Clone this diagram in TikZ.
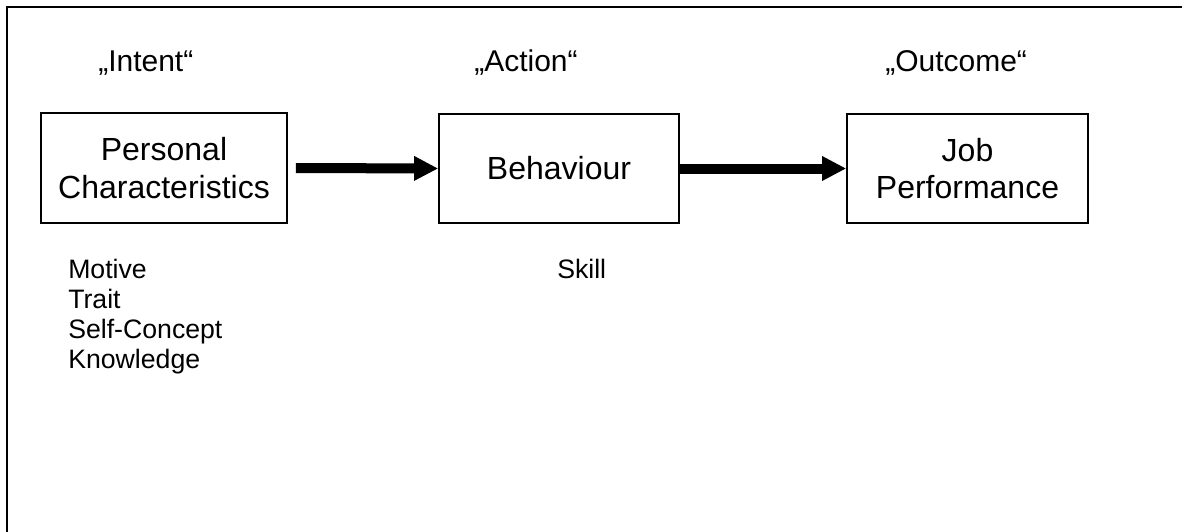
\documentclass[tikz,border=0pt]{standalone}
\usepackage{fontspec}
\setmainfont{Liberation Sans}
\usetikzlibrary{arrows.meta}
\begin{document}
\begin{tikzpicture}[x=0.75pt,y=-0.75pt,
  stagebox/.style={draw,line width=1.2pt,rectangle,align=center,inner sep=0pt,
    font=\fontsize{24}{28}\selectfont},
  stagelabel/.style={anchor=base west,inner sep=0pt,font=\fontsize{22.5}{27}\selectfont},
  listtext/.style={anchor=north west,inner sep=0pt,align=left,font=\fontsize{20}{22.5}\selectfont},
  flow/.style={line width=7.5pt,-{Triangle[length=18pt,width=17.25pt]}}]
  \useasboundingbox (0,0) rectangle (1182,532);
  % frame along the top and left edges
  \draw[line width=1.5pt] (7,532) -- (7,7) -- (1182,7);
  % the three stages
  \node[stagebox,minimum width=184.5pt,minimum height=82.5pt] (pc) at (164,168) {Personal\\Characteristics};
  \node[stagebox,minimum width=180pt,minimum height=81.75pt] (bh) at (559,168.5) {Behaviour};
  \node[stagebox,minimum width=180.75pt,minimum height=81.75pt] (jp) at (967.5,168.5) {Job\\Performance};
  % headings above the stages
  \node[stagelabel] (intent) at (98,71) {„Intent“};
  \node[stagelabel] (action) at (474,71) {„Action“};
  \node[stagelabel] (outcome) at (885,71) {„Outcome“};
  % flow between the stages
  \draw[flow] ([xshift=6pt]pc.east) -- (bh.west);
  \draw[flow] (bh.east) -- (jp.west);
  % characteristics under each stage
  \node[listtext] (traits) at (68,259) {Motive\\Trait\\Self-Concept\\Knowledge};
  \node[listtext] (skill) at (557,259) {Skill};
\end{tikzpicture}
\end{document}
